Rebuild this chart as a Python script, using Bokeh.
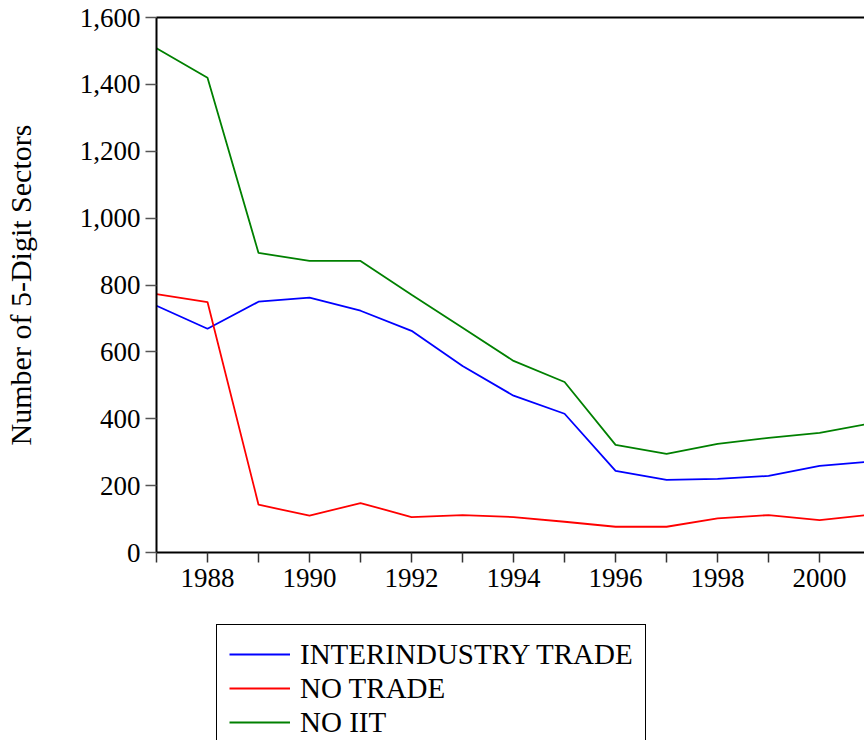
from bokeh.plotting import figure
from bokeh.layouts import column
from bokeh.models import (LinearAxis, FixedTicker, NumeralTickFormatter, Legend,
                          LegendItem, Range1d)
from bokeh.embed import file_html
from bokeh.resources import INLINE

years = [1987, 1988, 1989, 1990, 1991, 1992, 1993, 1994, 1995, 1996, 1997, 1998, 1999, 2000, 2001]
interindustry = [738, 669, 750, 762, 723, 663, 558, 469, 415, 244, 217, 220, 229, 259, 272]
no_trade = [773, 749, 143, 110, 148, 106, 112, 106, 92, 77, 77, 102, 112, 97, 113]
no_iit = [1508, 1420, 896, 872, 872, 771, 672, 573, 510, 322, 295, 325, 343, 358, 386]

series_names = ["INTERINDUSTRY TRADE", "NO TRADE", "NO IIT"]
series_colors = ["#0000FF", "#FF0000", "#008000"]
y_ticks = [0, 200, 400, 600, 800, 1000, 1200, 1400, 1600]
x_major = [1988, 1990, 1992, 1994, 1996, 1998, 2000]
x_minor = [1987, 1989, 1991, 1993, 1995, 1997, 1999, 2001]

FONT = "Liberation Serif"

p = figure(width=864, height=610,
           x_range=Range1d(1987, 2000.88), y_range=Range1d(0, 1600),
           output_backend="svg", toolbar_location=None,
           min_border_left=156, min_border_right=0,
           min_border_top=17, min_border_bottom=58)
p.xgrid.visible = False
p.ygrid.visible = False
p.outline_line_color = None
p.background_fill_color = "white"
p.border_fill_color = "white"

# y axis
ya = p.yaxis[0]
ya.ticker = FixedTicker(ticks=y_ticks)
ya.formatter = NumeralTickFormatter(format="0,0")
ya.axis_line_color = "black"
ya.axis_line_width = 2
ya.major_tick_line_color = "#555555"
ya.major_tick_line_width = 1.5
ya.major_tick_out = 11
ya.major_tick_in = 0
ya.minor_tick_line_color = None
ya.major_label_text_font = FONT
ya.major_label_text_font_size = "27px"
ya.major_label_text_color = "black"
ya.major_label_standoff = 5
ya.axis_label = "Number of 5-Digit Sectors"
ya.axis_label_text_font = FONT
ya.axis_label_text_font_size = "30px"
ya.axis_label_text_font_style = "normal"
ya.axis_label_text_color = "black"
ya.axis_label_standoff = 40

# x axis
xa = p.xaxis[0]
xa.ticker = FixedTicker(ticks=x_major, minor_ticks=x_minor)
xa.axis_line_color = "black"
xa.axis_line_width = 2
xa.major_tick_line_color = "#333333"
xa.major_tick_line_width = 1.5
xa.major_tick_out = 10
xa.major_tick_in = 0
xa.minor_tick_line_color = "#333333"
xa.minor_tick_line_width = 1.5
xa.minor_tick_out = 10
xa.minor_tick_in = 0
xa.major_label_text_font = FONT
xa.major_label_text_font_size = "27px"
xa.major_label_text_color = "black"
xa.major_label_standoff = 6

# top border line
top = LinearAxis(ticker=FixedTicker(ticks=[]))
top.axis_line_color = "black"
top.axis_line_width = 2
top.major_tick_line_color = None
top.minor_tick_line_color = None
top.major_label_text_font_size = "0px"
p.add_layout(top, "above")

for vals, col in zip([interindustry, no_trade, no_iit], series_colors):
    p.line(years, vals, line_color=col, line_width=1.8)

# legend panel below the chart (proxy renderers lie outside its ranges)
lg = figure(width=864, height=130, output_backend="svg", toolbar_location=None,
            x_axis_type=None, y_axis_type=None,
            x_range=Range1d(0, 1), y_range=Range1d(0, 1),
            min_border_left=156, min_border_right=0, min_border_top=0, min_border_bottom=0)
lg.xgrid.visible = False
lg.ygrid.visible = False
lg.outline_line_color = None
lg.border_fill_color = "white"
items = []
for name, col in zip(series_names, series_colors):
    r = lg.line([10, 11], [10, 11], line_color=col, line_width=1.8)
    items.append(LegendItem(label=name, renderers=[r]))

legend = Legend(items=items, location=(60, -12))
legend.label_text_font = FONT
legend.label_text_font_size = "29px"
legend.label_text_color = "black"
legend.label_height = 34
legend.glyph_height = 34
legend.glyph_width = 61
legend.label_standoff = 10
legend.spacing = 0
legend.padding = 12
legend.margin = 0
legend.border_line_color = "black"
legend.border_line_alpha = 1.0
legend.border_line_width = 1.5
legend.background_fill_color = "white"
legend.background_fill_alpha = 1.0
lg.add_layout(legend)

layout = column(p, lg, spacing=0)
open("out.html", "w").write(file_html(layout, INLINE))
